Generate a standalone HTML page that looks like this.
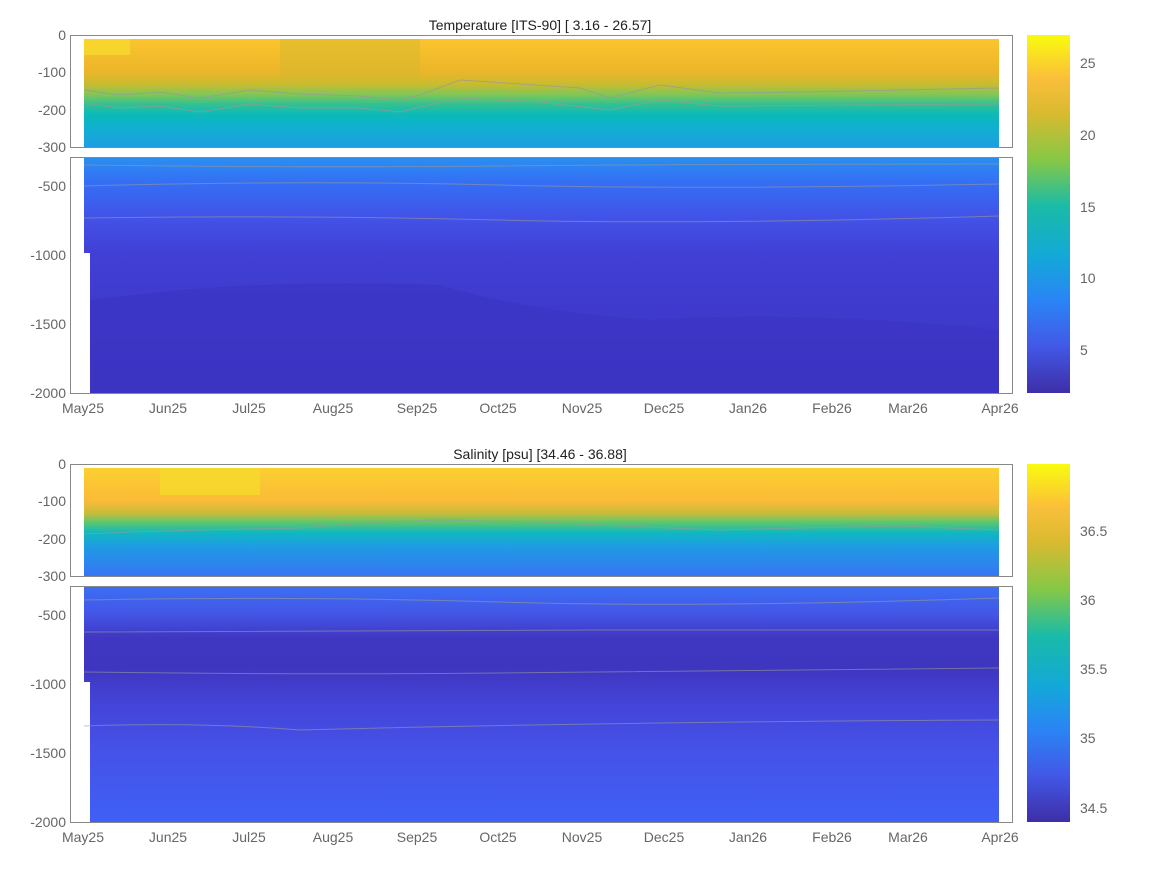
<!DOCTYPE html>
<html><head><meta charset="utf-8"><style>
body{margin:0;background:#fff}
svg text{font-family:"Liberation Sans",sans-serif;fill:#666;font-size:14px}
</style></head><body>
<svg width="1167" height="875" viewBox="0 0 1167 875" xmlns="http://www.w3.org/2000/svg">
<defs>
<linearGradient id="tu" x1="0" y1="0" x2="0" y2="1">
<stop offset="0" stop-color="#fbc52e"/><stop offset="0.3" stop-color="#ecb52a"/>
<stop offset="0.42" stop-color="#c8bc30"/><stop offset="0.52" stop-color="#7cc75a"/>
<stop offset="0.6" stop-color="#35c190"/><stop offset="0.7" stop-color="#0bbab8"/>
<stop offset="0.82" stop-color="#0fb0d0"/><stop offset="1" stop-color="#1e9ee2"/></linearGradient>
<linearGradient id="tl" x1="0" y1="0" x2="0" y2="1">
<stop offset="0" stop-color="#2a8ef0"/><stop offset="0.1" stop-color="#3470f5"/>
<stop offset="0.25" stop-color="#4253e8"/><stop offset="0.4" stop-color="#4140d6"/>
<stop offset="0.6" stop-color="#3f3bce"/><stop offset="1" stop-color="#3c35c4"/></linearGradient>
<linearGradient id="su" x1="0" y1="0" x2="0" y2="1">
<stop offset="0" stop-color="#fbd030"/><stop offset="0.3" stop-color="#fbbb38"/>
<stop offset="0.42" stop-color="#c8bb3a"/><stop offset="0.5" stop-color="#5fc76a"/>
<stop offset="0.6" stop-color="#0fb8c0"/><stop offset="0.72" stop-color="#1e9de2"/>
<stop offset="1" stop-color="#3675f5"/></linearGradient>
<linearGradient id="sl" x1="0" y1="0" x2="0" y2="1">
<stop offset="0" stop-color="#3a70f5"/><stop offset="0.12" stop-color="#4455e6"/>
<stop offset="0.22" stop-color="#3f37c2"/><stop offset="0.35" stop-color="#3f36c0"/>
<stop offset="0.5" stop-color="#4444d8"/><stop offset="0.7" stop-color="#4552e8"/>
<stop offset="1" stop-color="#3f60f6"/></linearGradient>
<linearGradient id="ct" x1="0" y1="0" x2="0" y2="1">
<stop offset="0" stop-color="#f9fb0e"/><stop offset="0.12" stop-color="#fbbf3a"/>
<stop offset="0.22" stop-color="#d8ba30"/><stop offset="0.35" stop-color="#85c846"/>
<stop offset="0.48" stop-color="#19bba8"/><stop offset="0.62" stop-color="#13a8d8"/>
<stop offset="0.74" stop-color="#2a85f5"/><stop offset="0.87" stop-color="#4258e6"/>
<stop offset="1" stop-color="#3e2ea8"/></linearGradient>
</defs>
<!-- temperature -->
<text x="540" y="30" text-anchor="middle" style="fill:#222">Temperature [ITS-90]   [ 3.16 - 26.57]</text>
<rect x="84" y="39" width="915" height="108" fill="url(#tu)"/>
<path d="M84 39 H130 V55 H84Z" fill="#f6d92c" opacity=".8"/>
<path d="M280 39 H420 V80 H280Z" fill="#d3b82c" opacity=".5"/>
<path d="M84 90 L120 95 L160 92 L200 98 L250 90 L300 94 L360 96 L400 100 L420 95 L460 80 L520 84 L580 88 L610 98 L660 85 L720 93 L800 92 L900 90 L999 88" stroke="#999" fill="none" opacity=".7"/>
<path d="M84 103 L120 108 L160 106 L200 112 L250 104 L300 108 L360 108 L400 112 L460 98 L540 102 L610 110 L660 100 L720 106 L999 104" stroke="#999" fill="none" opacity=".7"/>
<rect x="84" y="158" width="915" height="235" fill="url(#tl)"/>
<rect x="84" y="253" width="6" height="140" fill="#fff"/>
<path d="M84 165 Q300 168 500 166 T999 164 M84 186 Q300 180 500 185 T999 184" stroke="#999" fill="none" opacity=".6"/>
<path d="M84 218 Q300 215 500 220 T999 216" stroke="#999" fill="none" opacity=".6"/>
<path d="M180 290 Q300 280 440 285 Q520 310 650 320 Q800 310 999 330 V393 H90 V300Z" fill="#3a32c0" opacity=".5"/>
<g stroke="#888" fill="none"><rect x="70.5" y="35.5" width="942" height="112"/><rect x="70.5" y="157.5" width="942" height="236"/></g>
<rect x="1027" y="35" width="43" height="358" fill="url(#ct)"/>
<g text-anchor="end" style="font-size:14px"><text x="66" y="40">0</text><text x="66" y="77">-100</text><text x="66" y="115">-200</text><text x="66" y="152">-300</text>
<text x="66" y="191">-500</text><text x="66" y="260">-1000</text><text x="66" y="329">-1500</text><text x="66" y="398">-2000</text></g>
<g style="font-size:12px"><text x="1080" y="68">25</text><text x="1080" y="140">20</text><text x="1080" y="212">15</text><text x="1080" y="283">10</text><text x="1080" y="355">5</text></g>
<!-- salinity -->
<text x="540" y="459" text-anchor="middle" style="fill:#222">Salinity [psu]   [34.46 - 36.88]</text>
<rect x="84" y="468" width="915" height="108" fill="url(#su)"/>
<path d="M160 468 H260 V495 H160Z" fill="#f6d92c" opacity=".8"/>
<path d="M84 534 L130 532 L200 530 L300 528 L380 522 L440 520 L540 522 L620 526 L720 530 L800 528 L900 526 L999 530" stroke="#999" fill="none" opacity=".6"/>
<rect x="84" y="586" width="915" height="236" fill="url(#sl)"/>
<rect x="84" y="682" width="6" height="140" fill="#fff"/>
<path d="M84 600 Q300 596 500 602 T999 598 M84 632 Q400 630 600 630 T999 630 M84 672 Q300 675 500 673 T999 668 M84 726 Q200 722 300 730 Q600 722 999 720" stroke="#999" fill="none" opacity=".6"/>
<g stroke="#888" fill="none"><rect x="70.5" y="464.5" width="942" height="112"/><rect x="70.5" y="586.5" width="942" height="236"/></g>
<rect x="1027" y="464" width="43" height="358" fill="url(#ct)"/>
<g text-anchor="end"><text x="66" y="469">0</text><text x="66" y="506">-100</text><text x="66" y="544">-200</text><text x="66" y="581">-300</text>
<text x="66" y="620">-500</text><text x="66" y="689">-1000</text><text x="66" y="758">-1500</text><text x="66" y="827">-2000</text></g>
<g style="font-size:12px"><text x="1080" y="536">36.5</text><text x="1080" y="605">36</text><text x="1080" y="674">35.5</text><text x="1080" y="743">35</text><text x="1080" y="813">34.5</text></g>
<!-- x labels -->
<g text-anchor="middle">
<text x="83" y="413">May25</text><text x="168" y="413">Jun25</text><text x="249" y="413">Jul25</text><text x="333" y="413">Aug25</text><text x="417" y="413">Sep25</text><text x="498" y="413">Oct25</text><text x="582" y="413">Nov25</text><text x="664" y="413">Dec25</text><text x="748" y="413">Jan26</text><text x="832" y="413">Feb26</text><text x="908" y="413">Mar26</text><text x="1000" y="413">Apr26</text>
<text x="83" y="842">May25</text><text x="168" y="842">Jun25</text><text x="249" y="842">Jul25</text><text x="333" y="842">Aug25</text><text x="417" y="842">Sep25</text><text x="498" y="842">Oct25</text><text x="582" y="842">Nov25</text><text x="664" y="842">Dec25</text><text x="748" y="842">Jan26</text><text x="832" y="842">Feb26</text><text x="908" y="842">Mar26</text><text x="1000" y="842">Apr26</text>
</g>
</svg>
</body></html>
